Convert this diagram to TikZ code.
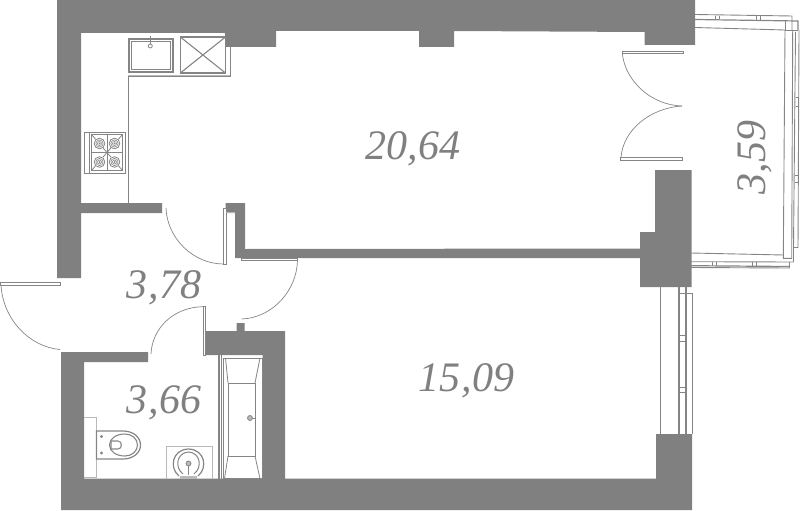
\documentclass[tikz,border=0pt]{standalone}
\usepackage{fontspec}
\setmainfont{Liberation Serif}
\definecolor{wallgray}{HTML}{808080}
\definecolor{linegray}{HTML}{858585}
\definecolor{lightgray2}{HTML}{B8B8B8}
\tikzset{
  wall/.style={fill=wallgray,draw=none},
  fine/.style={draw=linegray,line width=0.8pt},
  pale/.style={draw=lightgray2,line width=0.8pt},
  heavy/.style={draw=linegray,line width=1.6pt},
  swing/.style={draw=linegray,line width=0.7pt},
  leaf/.style={draw=linegray,line width=0.7pt,fill=white},
  rail/.style={draw=linegray,line width=0.9pt},
  area/.style={text=wallgray,font=\fontsize{42}{42}\selectfont\itshape,inner sep=0pt}
}
\begin{document}
\begin{tikzpicture}[x=1pt,y=-1pt]
\useasboundingbox (0,0) rectangle (800,511);
% walls
\fill[wall] (57,0) -- (695,0) -- (695,45) -- (644.7,45) -- (644.7,32) -- (454,31) -- (454,47) -- (419,47) -- (419,31) -- (276,31) -- (276,47) -- (225,47) -- (225,33) -- (81,33) -- (81,203) -- (162,203) -- (162,213) -- (81,213) -- (81,278) -- (57,278) -- cycle;
\fill[wall] (225.7,203) -- (245,203) -- (245,249) -- (640,248.5) -- (640,232) -- (655,232) -- (655,170) -- (691.5,170) -- (691.5,287) -- (640,287) -- (640,258) -- (235,258) -- (235,213) -- (225.7,213) -- cycle;
\fill[wall] (656,434) -- (692,434) -- (692,510) -- (61,510) -- (61,352) -- (148,352) -- (148,362) -- (84,362) -- (84,478.7) -- (262.7,478.7) -- (262.7,355) -- (205.5,355) -- (205.5,331) -- (236.7,331) -- (236.7,323) -- (244.5,323) -- (244.5,331) -- (285,331) -- (285,478.7) -- (656,478.7) -- cycle;
% kitchen counter
\draw[fine,line width=0.9pt] (128.3,203) -- (128.3,76.5) -- (230,76.5) -- (230,47);
\draw[pale] (128.3,75) -- (230,75);
% sink
\draw[heavy] (128.8,39.2) rectangle (172.7,72);
\draw[fine] (131,41) rectangle (170.5,69.5);
\draw[fine,fill=white] (150.3,46) circle (2);
\draw[fine] (150.3,44) -- (150.3,36);
% fridge box
\draw[heavy] (180.3,37) rectangle (225.5,73);
\draw[fine,line width=1.1pt] (180.3,37) -- (225.5,73) (180.3,73) -- (225.5,37);
% stove
\draw[fine] (84.5,132) rectangle (125.5,173);
\draw[fine] (89,132) -- (89,173);
\draw[fine] (91.5,134.5) rectangle (122.5,170.5);
\draw[fine] (107,134.5) -- (107,170.5) (91.5,152.5) -- (122.5,152.5);
\draw[fine] (91.5,134.5) -- (122.5,170.5) (122.5,134.5) -- (91.5,170.5);
\foreach \cx/\cy [count=\i] in {99.5/143.5,114.5/143.5,99.5/162,114.5/162}{
  \fill[white] (\cx,\cy) circle (5.8);
  \draw[fine] (\cx,\cy) circle (5.3);
  \draw[fine,line width=0.6pt] (\cx,\cy) circle (3.6) (\cx,\cy) circle (2);
  \fill[linegray] (\cx,\cy) circle (1);
}
% doors
\draw[leaf] (223.5,208) rectangle (226,264);
\draw[swing] (166,208) .. controls (167,238) and (193,264) .. (223.5,264);
\draw[pale] (226,212) -- (235,212);
\draw[leaf] (241,258.5) rectangle (297,260);
\draw[swing] (297.5,260) .. controls (297,291) and (272,318) .. (241.5,319);
\draw[leaf] (0.5,282.5) rectangle (60.5,285);
\draw[swing] (1,285) .. controls (3,320) and (30,347) .. (60,349.5);
\draw[leaf] (203,306.7) rectangle (205.3,355);
\draw[swing] (203,306.7) .. controls (174,307) and (152,328) .. (151,354);
\draw[leaf] (622,51.5) rectangle (683.5,53.5);
\draw[swing] (622.3,53.5) .. controls (625,80) and (650,105) .. (682,106);
\draw[leaf] (620.5,157.5) rectangle (682.5,160);
\draw[swing] (621,157.5) .. controls (623,130) and (650,108) .. (682,106);
% balcony
\draw[rail] (695,14.5) -- (792,16) -- (792,30);
\draw[rail,line width=1.2pt] (695,19.5) -- (798,21) -- (798,30);
\draw[rail] (695,27.5) -- (785,30);
\draw[rail] (715.5,16) -- (715.5,19.5) (719,16) -- (719,19.5) (756,16.5) -- (756,20) (760.5,16.5) -- (760.5,20);
\draw[rail] (785,21) -- (785,30) -- (798,30);
\draw[rail] (785,30) -- (783.3,258.3) -- (791.7,258.3) -- (792.7,30);
\draw[rail] (795.5,32) -- (793.5,247.5) -- (798,247.5);
\draw[rail] (799,30) -- (798,247.5);
\draw[rail] (795.5,97) -- (798.5,97) (795.5,106) -- (798.5,106) (795,175) -- (798,175) (795,182) -- (798,182);
\draw[rail] (691,253) -- (783.5,255);
\draw[rail] (793.5,247.5) -- (793.5,262) -- (691,261.7);
\draw[rail,line width=1.2pt] (691,265.7) -- (789.5,266.5);
\draw[rail] (691,267.5) -- (789.5,268) -- (789.5,262);
\draw[rail] (712,262) -- (712,265.5) (716.5,262) -- (716.5,265.5) (752,262) -- (752,266) (756.5,262) -- (756.5,266);
% lower window
\draw[heavy] (660.5,287) -- (660.5,434);
\draw[heavy,line width=1.2pt] (679,287) -- (679,434) (686,287) -- (686,434);
\draw[fine,line width=1pt] (686,293.5) -- (692,293.5) -- (692,434);
\draw[fine,line width=1pt] (679,335) -- (686,335) (679,341) -- (686,341) (679,387) -- (686,387) (679,392) -- (686,392) (679,293) -- (686,293);
% bathtub
\draw[fine,line width=1.1pt] (219,355) -- (219,478.7);
\draw[fine] (223,358) rectangle (262,478.7);
\draw[fine] (221,355) -- (221,478.7);
\draw[fine] (228,383) rectangle (255,456);
\draw[fine] (225.5,358) -- (228,383) (260,358) -- (255,383) (228,456) -- (224.5,478.7) (255,456) -- (260,478.7);
\draw[fine,fill=lightgray2] (250,418) circle (2.5);
\draw[fine] (252.5,418) -- (256,418);
% toilet
\draw[pale] (84,417) -- (96,417) -- (96,477) -- (84,477);
\draw[fine,line width=1.2pt] (96.5,431) -- (123,431) .. controls (133,431) and (140.5,437) .. (140.5,445) .. controls (140.5,453) and (133,459) .. (123,459) -- (96.5,459) -- cycle;
\draw[fine,line width=1.1pt] (109.5,445) .. controls (109.5,438) and (117,434) .. (125,434) .. controls (132,434) and (137.5,439) .. (137.5,445) .. controls (137.5,451) and (132,456) .. (125,456) .. controls (117,456) and (109.5,452) .. cycle;
\draw[fine,line width=1.1pt] (111,441) -- (118,441) .. controls (122.5,441) and (122.5,449) .. (118,449) -- (111,449) -- cycle;
\draw[fine] (101.5,436.5) circle (1);
\draw[fine] (101.5,453) circle (1);
% basin
\draw[pale] (166,478.7) -- (166,446.7) -- (212,446.7) -- (212,478.7);
\draw[fine,line width=1.2pt] (179,476) .. controls (169,468) and (172,449.5) .. (188.5,449) .. controls (205,449.5) and (208,468) .. (198,476);
\draw[fine,line width=1pt] (183,474) .. controls (174,467) and (177,452.5) .. (188.5,452) .. controls (200,452.5) and (203,467) .. (194,474);
\draw[fine,fill=lightgray2] (188.5,463.5) circle (2.5);
\draw[fine] (188.5,466) -- (188.5,475);
\fill[lightgray2] (180,475.5) rectangle (197,478.7);
% area labels
\node[area] (kitchen) at (413,149) {20\kern0.5pt,\kern0.5pt64};
\node[area,rotate=90] (balcony) at (755,157.5) {3\kern0.5pt,\kern0.5pt59};
\node[area] (hall) at (164,288) {3\kern0.5pt,\kern0.5pt78};
\node[area] (bath) at (164,403) {3\kern0.5pt,\kern0.5pt66};
\node[area] (room) at (466.5,381) {15\kern0.5pt,\kern0.5pt09};
\end{tikzpicture}
\end{document}
